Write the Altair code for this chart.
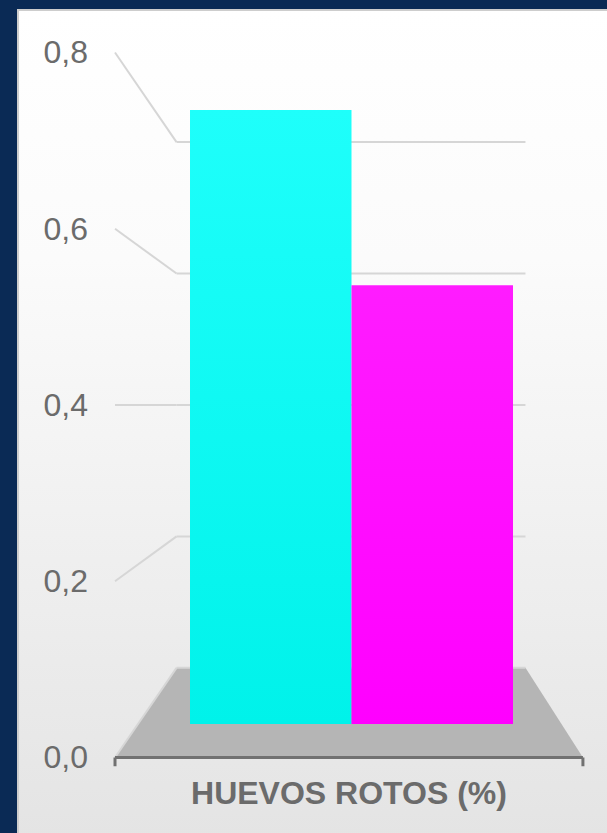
import altair as alt
import pandas as pd

# Series values and axis text
series = ["cian", "magenta"]
values = [0.77, 0.55]
bar_top = ["#1efffb", "#ff1cff"]
bar_bottom = ["#00f2ea", "#ff00ff"]
tick_values = [0.0, 0.2, 0.4, 0.6, 0.8]
tick_labels = ["0,0", "0,2", "0,4", "0,6", "0,8"]
axis_title = "HUEVOS ROTOS (%)"

# Perspective of the 3-D box: bars sit on the middle plane (scale 1),
# front and back walls are scaled around the horizon/centre point.
HORIZON = 0.4
CENTER_U = 1.034
FRONT = 1.105
BACK = 0.824
FLOOR_LEFT = -0.322
FLOOR_RIGHT = 2.30

W, H = 607, 833
X_DOMAIN = [-1.1765, 2.582]
Y_DOMAIN = [-0.1367, 0.9078]


def pu(u, s):
    return CENTER_U + (u - CENTER_U) * s


def pv(v, s):
    return HORIZON + (v - HORIZON) * s


xs = alt.Scale(domain=X_DOMAIN, nice=False, zero=False)
ys = alt.Scale(domain=Y_DOMAIN, nice=False, zero=False)

# Panel behind the chart
panel = alt.Chart(pd.DataFrame({"k": [0]})).mark_rect(
    fill=alt.Gradient(
        gradient="linear",
        stops=[
            alt.GradientStop(color="#ffffff", offset=0),
            alt.GradientStop(color="#fbfbfb", offset=0.3),
            alt.GradientStop(color="#e4e4e4", offset=1),
        ],
        x1=0, x2=0, y1=0, y2=1,
    ),
    stroke="#cdcdcd", strokeWidth=2,
).encode(x=alt.value(18), x2=alt.value(W + 4), y=alt.value(10), y2=alt.value(H + 4))

# Floor of the box
floor_df = pd.DataFrame({
    "y": [pv(0, BACK), pv(0, FRONT)],
    "x": [pu(FLOOR_LEFT, BACK), pu(FLOOR_LEFT, FRONT)],
    "x2": [pu(FLOOR_RIGHT, BACK), pu(FLOOR_RIGHT, FRONT)],
})
floor = alt.Chart(floor_df).mark_area(orient="horizontal", color="#b5b5b5").encode(
    y=alt.Y("y:Q", scale=ys, axis=None),
    x=alt.X("x:Q", scale=xs, axis=None),
    x2="x2:Q",
)

# Gridlines: a slanted side segment plus a back-wall segment per tick
grid_rows = []
for v in tick_values:
    grid_rows.append({"x": pu(FLOOR_LEFT, FRONT), "y": pv(v, FRONT),
                      "x2": pu(FLOOR_LEFT, BACK), "y2": pv(v, BACK)})
    grid_rows.append({"x": pu(FLOOR_LEFT, BACK), "y": pv(v, BACK),
                      "x2": pu(FLOOR_RIGHT, BACK), "y2": pv(v, BACK)})
grid = alt.Chart(pd.DataFrame(grid_rows)).mark_rule(color="#d6d6d6", strokeWidth=2).encode(
    x=alt.X("x:Q", scale=xs, axis=None),
    y=alt.Y("y:Q", scale=ys, axis=None),
    x2="x2:Q",
    y2="y2:Q",
)

# Bars on the middle plane
bars = []
for i, (name, val) in enumerate(zip(series, values)):
    df = pd.DataFrame({"serie": [name], "x0": [i], "x1": [i + 1], "valor": [val]})
    bars.append(
        alt.Chart(df).mark_rect(
            fill=alt.Gradient(
                gradient="linear",
                stops=[alt.GradientStop(color=bar_top[i], offset=0),
                       alt.GradientStop(color=bar_bottom[i], offset=1)],
                x1=0, x2=0, y1=0, y2=1,
            )
        ).encode(
            x=alt.X("x0:Q", scale=xs, axis=None),
            x2="x1:Q",
            y=alt.Y("valor:Q", scale=ys, axis=None),
            y2=alt.datum(0),
        )
    )

# Front category axis line with end ticks
axis_rows = [
    {"x": pu(FLOOR_LEFT, FRONT), "y": pv(0, FRONT), "x2": pu(FLOOR_RIGHT, FRONT), "y2": pv(0, FRONT)},
    {"x": pu(FLOOR_LEFT, FRONT), "y": pv(0, FRONT), "x2": pu(FLOOR_LEFT, FRONT), "y2": pv(0, FRONT) - 0.011},
    {"x": pu(FLOOR_RIGHT, FRONT), "y": pv(0, FRONT), "x2": pu(FLOOR_RIGHT, FRONT), "y2": pv(0, FRONT) - 0.011},
]
axis_line = alt.Chart(pd.DataFrame(axis_rows)).mark_rule(color="#717171", strokeWidth=3).encode(
    x=alt.X("x:Q", scale=xs, axis=None),
    y=alt.Y("y:Q", scale=ys, axis=None),
    x2="x2:Q",
    y2="y2:Q",
)

# Value labels on the front wall
label_df = pd.DataFrame({
    "x": [pu(FLOOR_LEFT, FRONT)] * len(tick_values),
    "y": [pv(v, FRONT) for v in tick_values],
    "label": tick_labels,
})
labels = alt.Chart(label_df).mark_text(
    align="right", baseline="middle", dx=-27, dy=1,
    font="Liberation Sans", fontSize=32, color="#6b6b6b",
).encode(
    x=alt.X("x:Q", scale=xs, axis=None),
    y=alt.Y("y:Q", scale=ys, axis=None),
    text="label:N",
)

# Category axis title
title_df = pd.DataFrame({
    "x": [(pu(FLOOR_LEFT, FRONT) + pu(FLOOR_RIGHT, FRONT)) / 2],
    "y": [pv(0, FRONT)],
    "t": [axis_title],
})
title = alt.Chart(title_df).mark_text(
    align="center", baseline="middle", dy=37,
    font="Liberation Sans", fontSize=32, fontWeight="bold", color="#6b6b6b",
).encode(
    x=alt.X("x:Q", scale=xs, axis=None),
    y=alt.Y("y:Q", scale=ys, axis=None),
    text="t:N",
)

chart = alt.layer(panel, floor, grid, *bars, axis_line, labels, title).properties(
    width=W, height=H, autosize=alt.AutoSizeParams(type="none"), padding=0,
    background="#0a2a55",
).configure_view(stroke=None)

chart.save("out.html", embed_options={"renderer": "svg", "actions": False})
